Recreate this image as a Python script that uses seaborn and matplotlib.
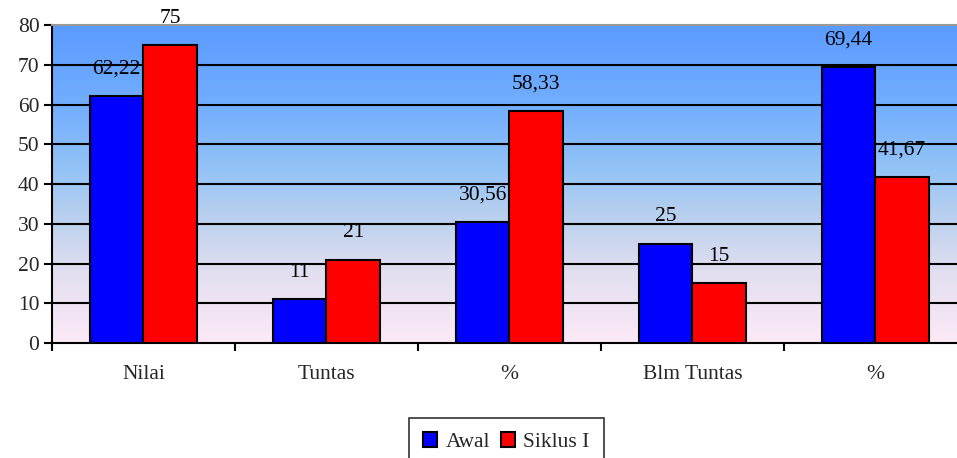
import numpy as np
import pandas as pd
import matplotlib
matplotlib.use("Agg")
import matplotlib.pyplot as plt
from matplotlib.colors import LinearSegmentedColormap
import seaborn as sns

# Data
categories = ["Nilai", "Tuntas", "%", "Blm Tuntas", "% "]
awal = [62.22, 11, 30.56, 25, 69.44]
siklus1 = [75, 21, 58.33, 15, 41.67]
series_names = ["Awal", "Siklus I"]
y_ticks = [0, 10, 20, 30, 40, 50, 60, 70, 80]

df = pd.DataFrame({
    "kategori": categories * 2,
    "nilai": awal + siklus1,
    "seri": [series_names[0]] * len(awal) + [series_names[1]] * len(siklus1),
})

sns.set_theme(style="white")
plt.rcParams["font.family"] = ["Liberation Serif", "DejaVu Serif"]
FS = 15.5

fig = plt.figure(figsize=(9.57, 4.58), dpi=100)
ax = fig.add_axes([0.0543, 0.251, 0.956, 0.694])

# Gradient background of the plot area
grad_cmap = LinearSegmentedColormap.from_list(
    "bg",
    [(0.0, "#FDE9F6"), (0.22, "#E2DFF0"), (0.4, "#B9D0EE"),
     (0.55, "#93C3F7"), (0.75, "#72AEFF"), (1.0, "#5B9BFF")],
)
grad = np.linspace(0, 1, 256).reshape(-1, 1)
ax.imshow(grad, cmap=grad_cmap, origin="lower", aspect="auto",
          extent=[-0.5, 4.5, 0, 80], zorder=0)

sns.barplot(data=df, x="kategori", y="nilai", hue="seri",
            palette=["#0000FF", "#FF0000"], width=0.585, gap=0,
            edgecolor="black", linewidth=1.5, saturation=1,
            ax=ax, zorder=3, legend=True)

# Value labels above each bar
for container in ax.containers:
    for bar in container:
        h = bar.get_height()
        txt = f"{h:g}".replace(".", ",")
        ax.annotate(txt, (bar.get_x() + bar.get_width() / 2, h),
                    xytext=(0, 27), textcoords="offset pixels",
                    ha="center", va="center", fontsize=FS, color="black",
                    zorder=5)

ax.set_xlim(-0.5, 4.5)
ax.set_ylim(0, 80)
ax.set_yticks(y_ticks)
ax.set_yticklabels([str(v) for v in y_ticks], fontsize=FS)
for v in y_ticks[1:-1]:
    ax.axhline(v, color="black", linewidth=1.5, zorder=1)

ax.set_xticks(range(len(categories)))
ax.set_xticklabels([c.strip() for c in categories], fontsize=FS)
ax.set_xticks(np.arange(-0.5, 4.6, 1.0), minor=True)
ax.tick_params(axis="x", which="major", length=0, pad=16)
ax.tick_params(axis="x", which="minor", length=6, width=1.5,
               direction="out", color="black", bottom=True)
ax.tick_params(axis="y", length=6, width=1.5, direction="out",
               color="black", left=True, pad=3)
ax.set_xlabel("")
ax.set_ylabel("")

for side in ["left", "bottom"]:
    ax.spines[side].set_color("black")
    ax.spines[side].set_linewidth(1.5)
ax.spines["top"].set_color("#9a9a9a")
ax.spines["top"].set_linewidth(1.5)
ax.spines["right"].set_visible(False)

handles, labels = ax.get_legend_handles_labels()
ax.get_legend().remove()
leg = fig.legend(handles, labels, loc="upper center",
                 bbox_to_anchor=(0.529, 0.087), ncol=2, frameon=True,
                 fancybox=False, edgecolor="black", fontsize=FS,
                 handlelength=0.65, handleheight=0.65, handletextpad=0.4,
                 columnspacing=0.5, borderpad=0.65, borderaxespad=0)
leg.get_frame().set_linewidth(1.2)

fig.savefig("out.png", dpi=100, facecolor="white")
